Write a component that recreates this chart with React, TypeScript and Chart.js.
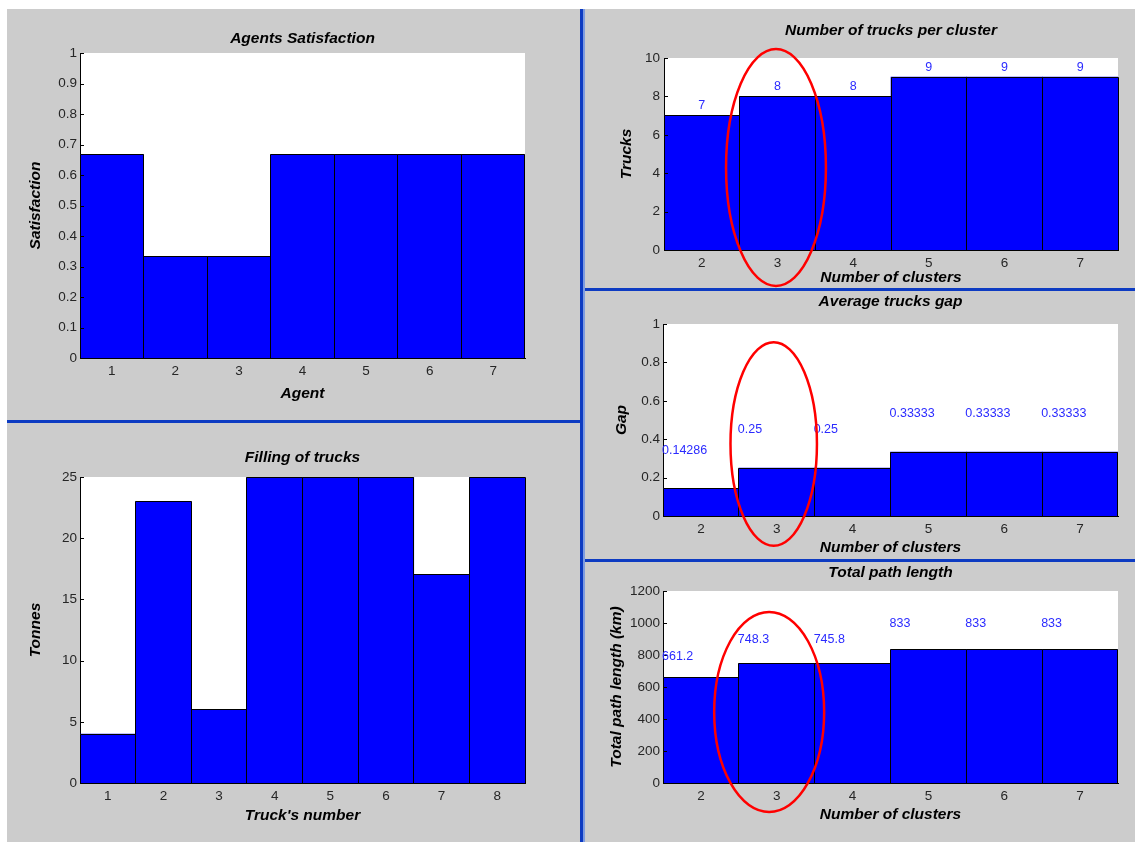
import React, { useEffect, useRef } from "react";
import { Chart, registerables } from "chart.js";

Chart.register(...registerables);

// ---------- data ----------
const agentCategories = ["1", "2", "3", "4", "5", "6", "7"];
const satisfactionValues = [0.667, 0.333, 0.333, 0.667, 0.667, 0.667, 0.667];

const truckNumbers = ["1", "2", "3", "4", "5", "6", "7", "8"];
const tonnesValues = [4, 23, 6, 25, 25, 25, 17, 25];

const clusterCategories = ["2", "3", "4", "5", "6", "7"];
const trucksPerCluster = [7, 8, 8, 9, 9, 9];
const gapValues = [0.14286, 0.25, 0.25, 0.33333, 0.33333, 0.33333];
const pathLengthValues = [661.2, 748.3, 745.8, 833, 833, 833];

const FAMILY = '"Liberation Sans", Arial, sans-serif';
const TITLE_SIZE = 15.5;

type ValueLabelSpec = {
  align: "center" | "left";
  y: (v: number) => number;
};

type EllipseSpec = { index: number; dx: number; yc: number; rx: number; ry: number };

type PanelSpec = {
  left: number;
  top: number;
  width: number;
  height: number;
  title: string;
  xTitle: string;
  yTitle: string;
  labels: string[];
  values: number[];
  yMax: number;
  yStep: number;
  padTop: number;
  padRight: number;
  yWidth: number;
  xHeight: number;
  titleY: number;
  xTitlePad: number;
  yTitlePad: number;
  yTickPad: number;
  valueLabels?: ValueLabelSpec;
  ellipse?: EllipseSpec;
};

function makePlugin(spec: PanelSpec) {
  return {
    id: "matlabPanel",
    beforeDraw(chart: any) {
      const { ctx, chartArea: a } = chart;
      ctx.save();
      ctx.fillStyle = "#ffffff";
      ctx.fillRect(a.left, a.top, a.right - a.left, a.bottom - a.top);
      ctx.restore();
    },
    afterDatasetsDraw(chart: any) {
      const { ctx, chartArea: a } = chart;
      const xs = chart.scales.x;
      const ys = chart.scales.y;
      ctx.save();
      ctx.strokeStyle = "#000000";
      ctx.lineWidth = 1;
      const meta = chart.getDatasetMeta(0);
      meta.data.forEach((bar: any) => {
        const p = bar.getProps(["x", "y", "base", "width"], true);
        const l = Math.floor(p.x - p.width / 2) + 0.5;
        const r = Math.floor(p.x + p.width / 2) + 0.5;
        const t = Math.floor(p.y) + 0.5;
        const b = p.base;
        ctx.beginPath();
        ctx.moveTo(l, b);
        ctx.lineTo(l, t);
        ctx.lineTo(r, t);
        ctx.lineTo(r, b);
        ctx.stroke();
      });
      ys.ticks.forEach((tk: any) => {
        const py = Math.round(ys.getPixelForValue(tk.value)) + 0.5;
        ctx.beginPath();
        ctx.moveTo(a.left, py);
        ctx.lineTo(a.left + 4, py);
        ctx.stroke();
      });
      if (spec.valueLabels) {
        const vl = spec.valueLabels;
        ctx.fillStyle = "#2b2bff";
        ctx.font = `12.5px ${FAMILY}`;
        ctx.textBaseline = "middle";
        const w = xs.getPixelForValue(1) - xs.getPixelForValue(0);
        spec.values.forEach((v, i) => {
          const cx = xs.getPixelForValue(i);
          const py = ys.getPixelForValue(vl.y(v));
          if (vl.align === "center") {
            ctx.textAlign = "center";
            ctx.fillText(String(v), cx, py);
          } else {
            ctx.textAlign = "left";
            ctx.fillText(String(v), cx - w / 2 - 1, py);
          }
        });
      }
      ctx.restore();
    },
    afterDraw(chart: any) {
      const { ctx, chartArea: a } = chart;
      const xs = chart.scales.x;
      const ys = chart.scales.y;
      ctx.save();
      if (spec.ellipse) {
        const e = spec.ellipse;
        const w = xs.getPixelForValue(1) - xs.getPixelForValue(0);
        const cx = xs.getPixelForValue(e.index) + e.dx * w;
        const cy = ys.getPixelForValue(e.yc);
        const ry = Math.abs(ys.getPixelForValue(e.yc + e.ry) - cy);
        ctx.strokeStyle = "#ff0000";
        ctx.lineWidth = 2.5;
        ctx.beginPath();
        ctx.ellipse(cx, cy, e.rx * w, ry, 0, 0, Math.PI * 2);
        ctx.stroke();
      }
      ctx.fillStyle = "#000000";
      ctx.font = `italic bold ${TITLE_SIZE}px ${FAMILY}`;
      ctx.textAlign = "center";
      ctx.textBaseline = "middle";
      ctx.fillText(spec.title, (a.left + a.right) / 2, spec.titleY);
      ctx.restore();
    },
  };
}

function buildConfig(spec: PanelSpec): any {
  const tickFont = { size: 13.5, family: FAMILY };
  const titleFont = { size: TITLE_SIZE, family: FAMILY, weight: "bold", style: "italic", lineHeight: 1 };
  return {
    type: "bar",
    data: {
      labels: spec.labels,
      datasets: [
        {
          data: spec.values,
          backgroundColor: "#0000ff",
          borderWidth: 0,
          barPercentage: 1,
          categoryPercentage: 1,
        },
      ],
    },
    options: {
      responsive: false,
      animation: false,
      devicePixelRatio: 1,
      layout: { padding: { top: spec.padTop, right: spec.padRight, left: 0, bottom: 0 } },
      plugins: { legend: { display: false }, tooltip: { enabled: false }, title: { display: false } },
      scales: {
        x: {
          grid: { display: false, drawTicks: false },
          border: { display: true, color: "#000000", width: 1 },
          ticks: { color: "#262626", font: tickFont, padding: 5, maxRotation: 0, autoSkip: false },
          title: {
            display: true,
            text: spec.xTitle,
            color: "#000000",
            font: titleFont,
            padding: { top: 0, bottom: spec.xTitlePad },
          },
          afterFit: (s: any) => {
            s.height = spec.xHeight;
          },
        },
        y: {
          min: 0,
          max: spec.yMax,
          grid: { display: false, drawTicks: false },
          border: { display: true, color: "#000000", width: 1 },
          ticks: {
            stepSize: spec.yStep,
            color: "#262626",
            font: tickFont,
            padding: spec.yTickPad,
            callback: (v: any) => String(Number(Number(v).toFixed(6))),
          },
          title: {
            display: true,
            text: spec.yTitle,
            color: "#000000",
            font: titleFont,
            padding: { top: spec.yTitlePad, bottom: 0 },
          },
          afterFit: (s: any) => {
            s.width = spec.yWidth;
          },
        },
      },
    },
    plugins: [makePlugin(spec)],
  };
}

function Panel({ spec }: { spec: PanelSpec }) {
  const ref = useRef<HTMLCanvasElement>(null);
  useEffect(() => {
    if (!ref.current) return;
    const chart = new Chart(ref.current, buildConfig(spec));
    return () => chart.destroy();
  }, []);
  return (
    <canvas
      ref={ref}
      width={spec.width}
      height={spec.height}
      style={{ position: "absolute", left: spec.left, top: spec.top, width: spec.width, height: spec.height }}
    />
  );
}

const panels: PanelSpec[] = [
  {
    left: 7, top: 9, width: 573, height: 412,
    title: "Agents Satisfaction", xTitle: "Agent", yTitle: "Satisfaction",
    labels: agentCategories, values: satisfactionValues, yMax: 1, yStep: 0.1,
    padTop: 44, padRight: 55, yWidth: 73, xHeight: 63, titleY: 30,
    xTitlePad: 20, yTitlePad: 21, yTickPad: 3,
  },
  {
    left: 7, top: 424, width: 573, height: 418,
    title: "Filling of trucks", xTitle: "Truck's number", yTitle: "Tonnes",
    labels: truckNumbers, values: tonnesValues, yMax: 25, yStep: 5,
    padTop: 53, padRight: 55, yWidth: 73, xHeight: 59, titleY: 34,
    xTitlePad: 19, yTitlePad: 21, yTickPad: 3,
  },
  {
    left: 586, top: 9, width: 549, height: 280,
    title: "Number of trucks per cluster", xTitle: "Number of clusters", yTitle: "Trucks",
    labels: clusterCategories, values: trucksPerCluster, yMax: 10, yStep: 2,
    padTop: 49, padRight: 17, yWidth: 78, xHeight: 39, titleY: 22,
    xTitlePad: 4, yTitlePad: 33, yTickPad: 4,
    valueLabels: { align: "center", y: (v) => v + 0.5 },
    ellipse: { index: 1, dx: -0.02, yc: 4.3, rx: 0.66, ry: 6.17 },
  },
  {
    left: 586, top: 292, width: 549, height: 267,
    title: "Average trucks gap", xTitle: "Number of clusters", yTitle: "Gap",
    labels: clusterCategories, values: gapValues, yMax: 1, yStep: 0.2,
    padTop: 32, padRight: 17, yWidth: 77, xHeight: 43, titleY: 10,
    xTitlePad: 4, yTitlePad: 28, yTickPad: 3,
    valueLabels: { align: "left", y: (v) => v + 0.2 },
    ellipse: { index: 1, dx: -0.04, yc: 0.375, rx: 0.57, ry: 0.53 },
  },
  {
    left: 586, top: 562, width: 549, height: 280,
    title: "Total path length", xTitle: "Number of clusters", yTitle: "Total path length (km)",
    labels: clusterCategories, values: pathLengthValues, yMax: 1200, yStep: 200,
    padTop: 29, padRight: 17, yWidth: 77, xHeight: 59, titleY: 11,
    xTitlePad: 20, yTitlePad: 23, yTickPad: 3,
    valueLabels: { align: "left", y: (v) => v * 1.2 },
    ellipse: { index: 1, dx: -0.1, yc: 444, rx: 0.725, ry: 625 },
  },
];

export default function App() {
  const dark = "#0d3bc2";
  const light = "#7d9be0";
  return (
    <div style={{ position: "fixed", left: 0, top: 0, width: 1135, height: 842, background: "#ffffff", overflow: "hidden" }}>
      <div style={{ position: "absolute", left: 7, top: 9, right: 0, bottom: 0, background: "#cccccc" }} />
      {panels.map((p, i) => (
        <Panel key={i} spec={p} />
      ))}
      <div style={{ position: "absolute", left: 7, top: 420, width: 573, height: 3, background: dark }} />
      <div style={{ position: "absolute", left: 583, top: 288, width: 552, height: 3, background: dark }} />
      <div style={{ position: "absolute", left: 583, top: 559, width: 552, height: 3, background: dark }} />
      <div style={{ position: "absolute", left: 580, top: 9, width: 3, height: 833, background: dark }} />
      <div style={{ position: "absolute", left: 583, top: 9, width: 2, height: 833, background: light }} />
    </div>
  );
}
